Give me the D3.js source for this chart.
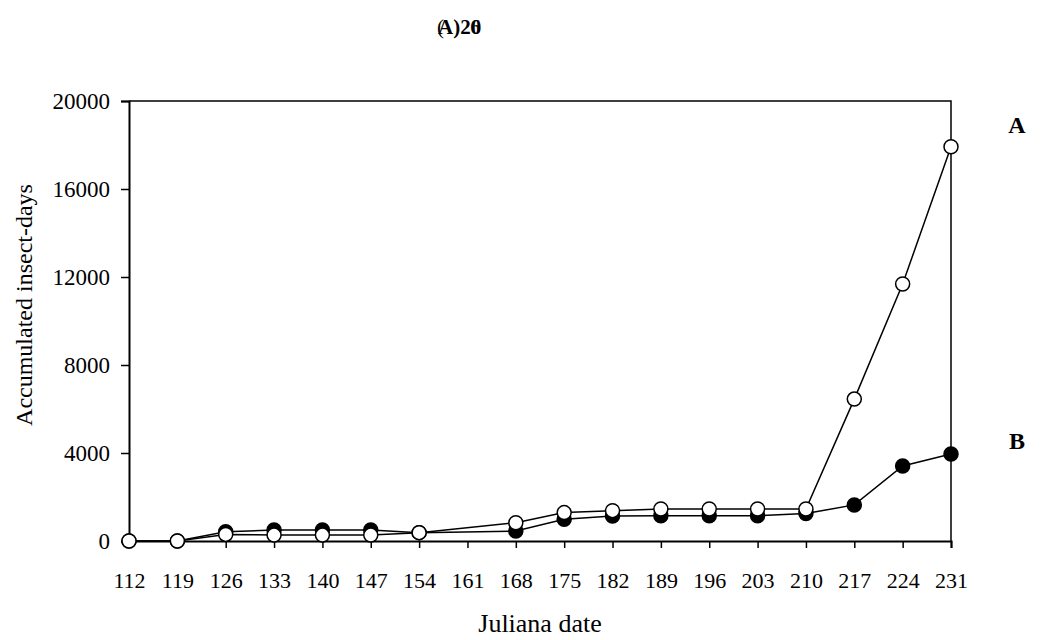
<!DOCTYPE html>
<html><head><meta charset="utf-8">
<script src="https://cdn.jsdelivr.net/npm/d3@7"></script>
<style>body{margin:0;background:#fff}svg{display:block}text{font-family:"Liberation Serif","Times New Roman",serif;fill:#000}</style>
</head><body>
<svg id="c" width="1060" height="640"></svg>
<script>
const dates = [112,119,126,133,140,147,154,161,168,175,182,189,196,203,210,217,224,231];
const seriesA = [0,0,300,270,270,270,380,null,830,1290,1380,1455,1455,1455,1455,6450,11680,17920];
const seriesB = [0,0,420,500,500,500,380,null,450,985,1135,1150,1150,1150,1250,1640,3410,3950];
const yTicks = [0,4000,8000,12000,16000,20000];
const labels = {y:"Accumulated insect-days", x:"Juliana date", a:"A", b:"B"};

const svg = d3.select("#c");
const m = {l:129, r:951, t:101, b:541};
const x = d3.scalePoint().domain(dates).range([m.l, m.r]);
const y = d3.scaleLinear().domain([0,20000]).range([m.b, m.t]);

svg.append("path").attr("d", `M${m.l},${m.t}H${m.r}V${m.b}`).attr("fill","none").attr("stroke","#000").attr("stroke-width",1.5);

const yAx = svg.append("g").attr("transform",`translate(${m.l},0)`)
  .call(d3.axisLeft(y).tickValues(yTicks).tickSize(8).tickPadding(11).tickFormat(d3.format("d")));
const xAx = svg.append("g").attr("transform",`translate(0,${m.b})`)
  .call(d3.axisBottom(x).tickSize(7).tickPadding(24));
[yAx,xAx].forEach(g=>{
  g.select(".domain").attr("stroke","#000").attr("stroke-width",2);
  g.selectAll(".tick line").attr("stroke","#000").attr("stroke-width",1.5);
  g.selectAll(".tick text").style("font-family",'"Liberation Serif",serif').style("font-size","23px").attr("fill","#000");
});
xAx.selectAll(".tick text").style("font-size","22px");

const pts = s => dates.map((d,i)=>({d, v:s[i]})).filter(p=>p.v!==null);
const line = d3.line().x(p=>x(p.d)).y(p=>y(p.v));

function drawSeries(s, fill){
  const p = pts(s);
  svg.append("path").datum(p).attr("d",line).attr("fill","none").attr("stroke","#000").attr("stroke-width",1.5);
  svg.append("g").selectAll("circle").data(p).join("circle")
    .attr("cx",q=>x(q.d)).attr("cy",q=>y(q.v)).attr("r",7)
    .attr("fill",fill).attr("stroke","#000").attr("stroke-width",1.5);
}
drawSeries(seriesB, "#000");
drawSeries(seriesA, "#fff");

svg.append("text").attr("x",1017).attr("y",133).attr("text-anchor","middle").style("font-size","24px").style("font-weight","bold").text(labels.a);
svg.append("text").attr("x",1017).attr("y",449).attr("text-anchor","middle").style("font-size","24px").style("font-weight","bold").text(labels.b);

// overlapped title drawn as one text with tspans
const t = svg.append("text").attr("x",437).attr("y",34).style("font-size","21px").style("font-weight","bold");
t.append("tspan").style("font-weight","normal").text("(");
t.append("tspan").attr("dx",-6).text("A)20");
t.append("tspan").attr("dx",-11).attr("opacity",0.85).text("6");

svg.append("text").attr("x",540).attr("y",632).attr("text-anchor","middle").style("font-size","26px").text(labels.x);
svg.append("text").attr("transform","translate(32,305) rotate(-90)").attr("text-anchor","middle").style("font-size","24px").text(labels.y);
</script>
</body></html>
